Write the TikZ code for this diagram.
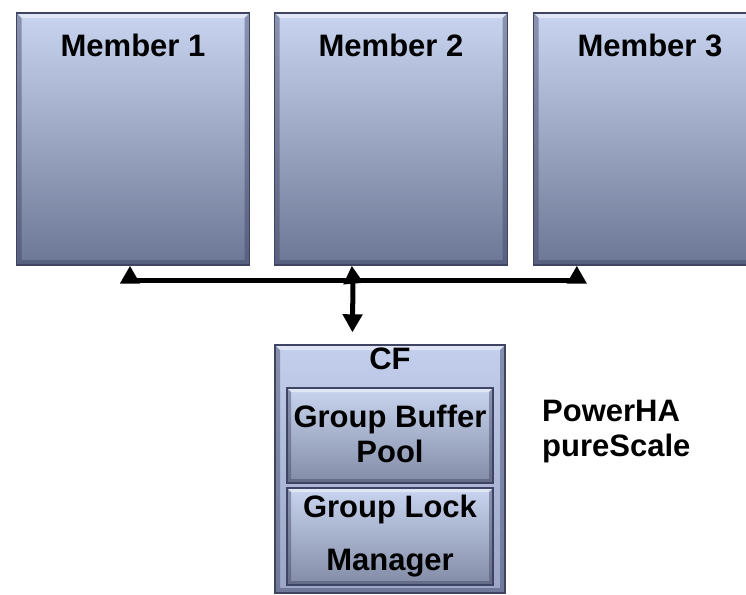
\documentclass[tikz,border=0pt]{standalone}
\usepackage{fontspec}
\setmainfont{Liberation Sans}
\usepackage{tikz}
\usetikzlibrary{arrows.meta, positioning, calc}
\definecolor{psTop}{HTML}{C9D5F0}
\definecolor{psBot}{HTML}{6C7795}
\definecolor{psEdge}{HTML}{3E4462}
\definecolor{psCfTop}{HTML}{C3CFEC}
\definecolor{psCfBot}{HTML}{9AA5C7}

\begin{document}
\begin{tikzpicture}[x=1pt, y=-1pt,
  bevel/.style={path picture={
    \fill[white, opacity=0.45] (path picture bounding box.north west) -- (path picture bounding box.north east)
      -- ([shift={(-#1,-#1)}]path picture bounding box.north east) -- ([shift={(#1,-#1)}]path picture bounding box.north west) -- cycle;
    \fill[psEdge, opacity=0.45] (path picture bounding box.north west) -- ([shift={(#1,-#1)}]path picture bounding box.north west)
      -- ([shift={(#1,#1)}]path picture bounding box.south west) -- ([shift={(-#1,#1)}]path picture bounding box.south east)
      -- ([shift={(-#1,-#1)}]path picture bounding box.north east) -- (path picture bounding box.north east)
      -- (path picture bounding box.south east) -- (path picture bounding box.south west) -- cycle;
  }},
  member/.style={draw=psEdge, line width=1.4pt, top color=psTop, bottom color=psBot, bevel=5pt,
                 minimum width=233pt, minimum height=252pt, inner sep=0pt},
  cfbox/.style={draw=psEdge, line width=1.4pt, top color=psCfTop, bottom color=psCfBot, bevel=5pt,
                minimum width=230pt, minimum height=248pt, inner sep=0pt},
  part/.style={draw=psEdge, line width=1.4pt, top color=psTop, bottom color=psBot!85!white, bevel=4pt,
               minimum width=206pt, inner sep=0pt, align=center},
  title/.style={font=\fontsize{31}{35}\selectfont\bfseries},
  link/.style={line width=5pt, -{Triangle[length=18pt, width=19pt]}}
]
  \clip (0,0) rectangle (746,594);

  % the three members along the top
  \node[member, label={[title, anchor=base, yshift=-44pt]north:Member 1}] (m1) at (133,139) {};
  \node[member, label={[title, anchor=base, yshift=-44pt]north:Member 2}] (m2) at (391,139) {};
  \node[member, label={[title, anchor=base, yshift=-44pt]north:Member 3}] (m3) at (650,139) {};

  % coupling facility
  \node[cfbox, label={[title, anchor=base, yshift=-25pt]north:CF}] (cf) at (390,469) {};
  \node[part, title, minimum height=95pt, text depth=4pt] (gbp) at (390,435.5) {Group Buffer\\Pool};
  \node[part, title, minimum height=97pt] (glm) at (390,536.5) {Group Lock\\[18pt]Manager};

  \node[title, anchor=base west, align=left, inner sep=0pt] (pha) at (542,456) {PowerHA\\pureScale};

  % interconnect
  \coordinate (hub) at (353,280);
  \draw[link] (hub) -| ([xshift=-3pt]m1.south);
  \draw[link] (hub) -| ([xshift=44pt]m3.south west);
  \draw[link] (hub) -- ([xshift=78pt]m2.south west);
  \draw[link, shorten >=12pt] (hub) -- ([xshift=78pt]cf.north west);
\end{tikzpicture}
\end{document}
